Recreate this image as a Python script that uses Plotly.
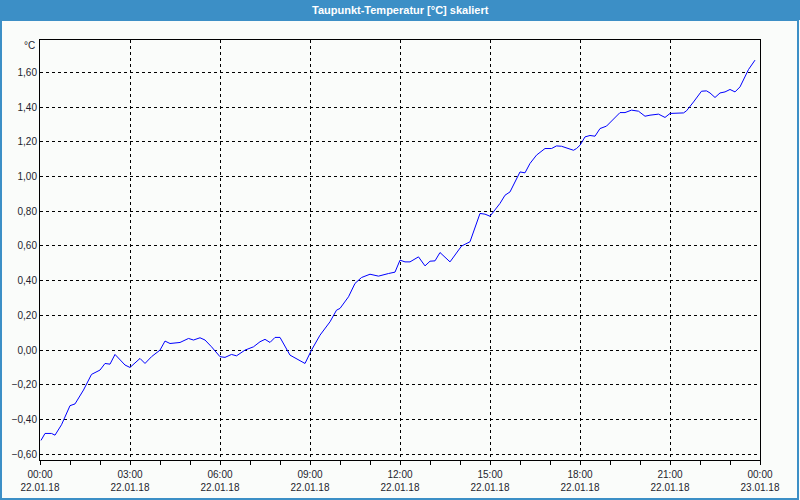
import plotly.graph_objects as go

# ---- data ----
times = ["00:02","00:10","00:23","00:30","00:43","01:00","01:10","01:27","01:43","02:00",
         "02:10","02:20","02:30","02:50","03:00","03:20","03:30","03:43","04:00","04:10",
         "04:20","04:40","04:57","05:07","05:20","05:30","05:43","06:00","06:10","06:23",
         "06:33","06:50","07:07","07:20","07:30","07:40","07:50","08:00","08:20","08:40",
         "08:50","09:03","09:20","09:40","09:53","10:00","10:17","10:30","10:43","11:00",
         "11:17","11:37","11:50","12:00","12:10","12:20","12:37","12:50","13:00","13:10",
         "13:20","13:40","14:03","14:20","14:30","14:40","14:50","15:00","15:20","15:30",
         "15:40","16:00","16:10","16:20","16:33","16:50","17:03","17:13","17:23","17:47",
         "17:53","18:00","18:10","18:20","18:30","18:40","18:53","19:20","19:30","19:43",
         "19:57","20:10","20:20","20:37","20:50","21:00","21:27","21:33","21:47","22:03",
         "22:13","22:20","22:30","22:40","22:50","23:00","23:10","23:20","23:37","23:47","23:50"]
values = [-0.52,-0.48,-0.48,-0.49,-0.43,-0.32,-0.31,-0.23,-0.14,-0.115,
          -0.077,-0.081,-0.025,-0.086,-0.10,-0.048,-0.077,-0.038,0.0,0.052,
          0.038,0.044,0.067,0.058,0.071,0.058,0.019,-0.038,-0.042,-0.025,
          -0.033,0.0,0.019,0.048,0.062,0.044,0.073,0.073,-0.029,-0.058,
          -0.077,0.0,0.086,0.163,0.23,0.24,0.307,0.384,0.418,0.437,
          0.426,0.441,0.449,0.518,0.508,0.508,0.537,0.485,0.512,0.514,
          0.562,0.508,0.599,0.624,0.71,0.787,0.783,0.771,0.845,0.892,
          0.911,1.026,1.021,1.075,1.123,1.161,1.161,1.176,1.174,1.151,
          1.161,1.18,1.228,1.236,1.232,1.276,1.29,1.368,1.368,1.382,
          1.376,1.347,1.353,1.359,1.34,1.363,1.366,1.378,1.429,1.491,
          1.493,1.481,1.455,1.481,1.487,1.501,1.487,1.516,1.616,1.66,1.67]
day = "2018-01-22"
tick_dates = ["2018-01-22 00:00","2018-01-22 03:00","2018-01-22 06:00","2018-01-22 09:00",
              "2018-01-22 12:00","2018-01-22 15:00","2018-01-22 18:00","2018-01-22 21:00",
              "2018-01-23 00:00"]
tick_text = ["00:00<br>22.01.18","03:00<br>22.01.18","06:00<br>22.01.18","09:00<br>22.01.18",
             "12:00<br>22.01.18","15:00<br>22.01.18","18:00<br>22.01.18","21:00<br>22.01.18",
             "00:00<br>23.01.18"]
minor_dates = ["2018-01-22 %02d:00" % h for h in range(24)] + ["2018-01-23 00:00"]
title = "Taupunkt-Temperatur [°C] skaliert"
unit = "°C"

x = [day + " " + t for t in times]

fig = go.Figure()
fig.add_trace(go.Scatter(x=x, y=values, mode="lines",
                         line=dict(color="#0000ff", width=1), showlegend=False))

axis_font = dict(family="Liberation Sans, Arial, sans-serif", size=10, color="#1e1e2e")
fig.update_layout(
    width=800, height=500,
    margin=dict(l=40, r=40, t=40, b=40),
    paper_bgcolor="#fafcfa", plot_bgcolor="#fafcfa",
    separators=",.",
    font=axis_font,
    xaxis=dict(
        type="date", automargin=False,
        range=["2018-01-22 00:00", "2018-01-23 00:00"],
        tickmode="array", tickvals=tick_dates, ticktext=tick_text,
        ticks="outside", ticklen=4, tickcolor="black", ticklabelstandoff=1,
        showgrid=True, gridcolor="black", gridwidth=1, griddash="3px,3px",
        showline=True, linecolor="black", linewidth=1, mirror=True,
        zeroline=False, tickfont=axis_font,
        minor=dict(tickmode="array", tickvals=minor_dates, ticks="outside",
                   ticklen=4, tickcolor="black", showgrid=False),
    ),
    yaxis=dict(
        range=[-0.633, 1.786], automargin=False,
        tickmode="linear", tick0=-0.6, dtick=0.2, tickformat=".2f",
        ticks="", showgrid=True, gridcolor="black", gridwidth=1, griddash="3px,3px",
        showline=True, linecolor="black", linewidth=1, mirror=True,
        zeroline=False, tickfont=axis_font,
    ),
    shapes=[
        dict(type="rect", xref="paper", yref="paper",
             x0=-40/720, x1=1+40/720, y0=1+20/420, y1=1+40/420,
             fillcolor="#3c8fc6", line=dict(width=0), layer="below"),
        dict(type="rect", xref="paper", yref="paper",
             x0=-39/720, x1=1+38/720, y0=-39/420, y1=1+20/420,
             fillcolor="rgba(0,0,0,0)", line=dict(color="#3c8fc6", width=2)),
    ],
    annotations=[
        dict(text=title, xref="paper", yref="paper", x=0.5, y=1+30/420,
             xanchor="center", yanchor="middle", showarrow=False,
             font=dict(family="Liberation Sans, Arial, sans-serif", size=11,
                       color="white", weight="bold")),
        dict(text=unit, xref="paper", yref="paper", x=-3/720, y=1-6/420,
             xanchor="right", yanchor="middle", showarrow=False, font=axis_font),
    ],
)

fig.write_html("out.html")
